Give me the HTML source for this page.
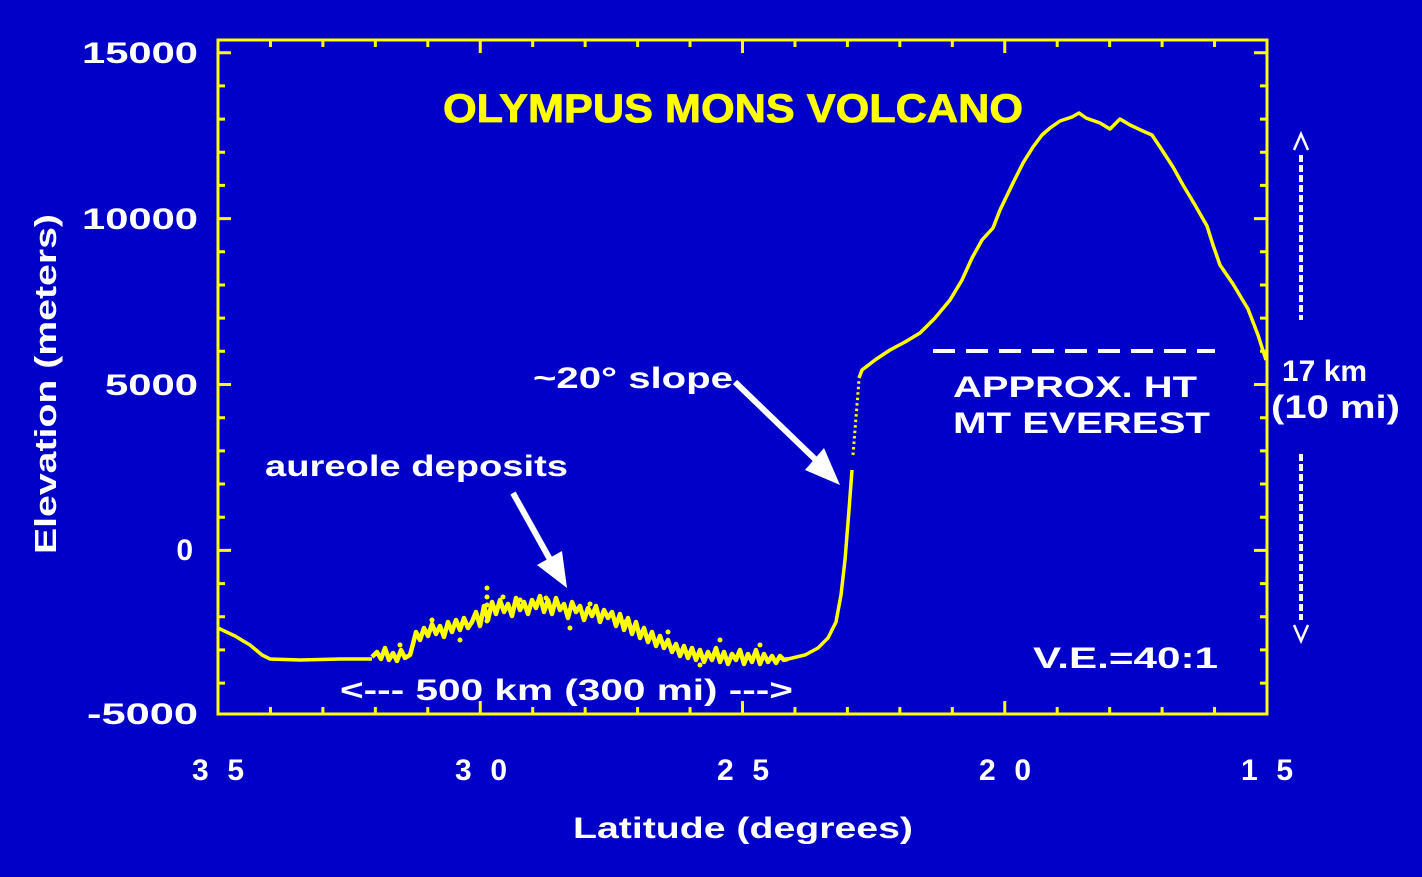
<!DOCTYPE html>
<html><head><meta charset="utf-8"><style>
html,body{margin:0;padding:0;background:#0000c8;}
svg{display:block;}
text{font-family:"Liberation Sans",sans-serif;font-weight:bold;}
</style></head><body>
<svg width="1422" height="877" viewBox="0 0 1422 877" xmlns="http://www.w3.org/2000/svg">
<rect width="1422" height="877" fill="#0000c8"/>
<path stroke="#ffff00" stroke-width="3" fill="none" d="
M218,714v-13 M270.45,714v-7 M322.9,714v-7 M375.35,714v-7 M427.8,714v-7 M480.25,714v-13 M532.7,714v-7 M585.15,714v-7 M637.6,714v-7 M690.05,714v-7 M742.5,714v-13 M794.95,714v-7 M847.4,714v-7 M899.85,714v-7 M952.3,714v-7 M1004.75,714v-13 M1057.2,714v-7 M1109.65,714v-7 M1162.1,714v-7 M1214.55,714v-7
M270.45,40v7 M322.9,40v7 M375.35,40v7 M427.8,40v7 M480.25,40v13 M532.7,40v7 M585.15,40v7 M637.6,40v7 M690.05,40v7 M742.5,40v13 M794.95,40v7 M847.4,40v7 M899.85,40v7 M952.3,40v7 M1004.75,40v13 M1057.2,40v7 M1109.65,40v7 M1162.1,40v7 M1214.55,40v7
M218,52.7h13 M218,85.9h7 M218,119.1h7 M218,152.2h7 M218,185.4h7 M218,218.6h13 M218,251.8h7 M218,285h7 M218,318.1h7 M218,351.3h7 M218,384.5h13 M218,417.7h7 M218,450.9h7 M218,484h7 M218,517.2h7 M218,550.4h13 M218,583.6h7 M218,616.8h7 M218,649.9h7 M218,683.1h7
M1267,52.7h-13 M1267,85.9h-7 M1267,119.1h-7 M1267,152.2h-7 M1267,185.4h-7 M1267,218.6h-13 M1267,251.8h-7 M1267,285h-7 M1267,318.1h-7 M1267,351.3h-7 M1267,384.5h-13 M1267,417.7h-7 M1267,450.9h-7 M1267,484h-7 M1267,517.2h-7 M1267,550.4h-13 M1267,583.6h-7 M1267,616.8h-7 M1267,649.9h-7 M1267,683.1h-7"/>
<rect x="218" y="40" width="1049" height="674" fill="none" stroke="#ffff00" stroke-width="3"/>
<g fill="#fff" font-size="30" text-anchor="end">
<text x="198" y="63" textLength="116" lengthAdjust="spacingAndGlyphs">15000</text>
<text x="198" y="229" textLength="116" lengthAdjust="spacingAndGlyphs">10000</text>
<text x="198" y="395" textLength="93" lengthAdjust="spacingAndGlyphs">5000</text>
<text x="193" y="560">0</text>
<text x="198" y="724" textLength="111" lengthAdjust="spacingAndGlyphs">-5000</text>
</g>
<text transform="translate(56,384) rotate(-90)" fill="#fff" font-size="31" text-anchor="middle" textLength="340" lengthAdjust="spacingAndGlyphs">Elevation (meters)</text>
<g fill="#fff" font-size="30" text-anchor="middle">
<text x="218" y="780" textLength="52" lengthAdjust="spacing">35</text>
<text x="481" y="780" textLength="52" lengthAdjust="spacing">30</text>
<text x="743" y="780" textLength="52" lengthAdjust="spacing">25</text>
<text x="1005" y="780" textLength="52" lengthAdjust="spacing">20</text>
<text x="1267" y="780" textLength="52" lengthAdjust="spacing">15</text>
<text x="743" y="838" textLength="340" lengthAdjust="spacingAndGlyphs">Latitude (degrees)</text>
</g>
<text x="443" y="122" fill="#ffff00" stroke="#ffff00" stroke-width="0.8" font-size="40" textLength="580" lengthAdjust="spacingAndGlyphs">OLYMPUS MONS VOLCANO</text>
<g fill="#fff" font-size="30">
<text x="265" y="476" textLength="303" lengthAdjust="spacingAndGlyphs">aureole deposits</text>
<text x="533" y="388" textLength="200" lengthAdjust="spacingAndGlyphs">~20° slope</text>
<text x="953" y="397" textLength="244" lengthAdjust="spacingAndGlyphs">APPROX.  HT</text>
<text x="953" y="433" textLength="257" lengthAdjust="spacingAndGlyphs">MT  EVEREST</text>
<text x="1033" y="668" textLength="185" lengthAdjust="spacingAndGlyphs">V.E.=40:1</text>
<text x="340" y="700" textLength="453" lengthAdjust="spacingAndGlyphs">&lt;--- 500 km (300 mi) ---&gt;</text>
<text x="1282" y="381" font-size="30">17 km</text>
<text x="1271" y="418" font-size="32" textLength="129" lengthAdjust="spacingAndGlyphs">(10 mi)</text>
</g>
<line x1="933" y1="351" x2="1215" y2="351" stroke="#fff" stroke-width="4" stroke-dasharray="22 11"/>
<line x1="1301" y1="155" x2="1301" y2="320" stroke="#fff" stroke-width="4" stroke-dasharray="7 3"/>
<line x1="1301" y1="454" x2="1301" y2="620" stroke="#fff" stroke-width="4" stroke-dasharray="7 3"/>
<polyline points="1294,150 1301,134 1308,150" fill="none" stroke="#fff" stroke-width="2.5"/>
<polyline points="1294,625 1301,641 1308,625" fill="none" stroke="#fff" stroke-width="2.5"/>
<line x1="735" y1="382" x2="818" y2="462" stroke="#fff" stroke-width="6"/>
<polygon points="805,470 824,448 840,485" fill="#fff"/>
<line x1="513" y1="493" x2="552" y2="563" stroke="#fff" stroke-width="6"/>
<polygon points="537,565 562,551 567,588" fill="#fff"/>
<path d="M218,628 L235,636 L250,645 L262,655 L270,659 L300,660 L340,659 L372,659" fill="none" stroke="#ffff00" stroke-width="3.5"/>
<polyline fill="none" stroke="#ffff00" stroke-width="4.5" stroke-linejoin="round" points="372,657 377,652 381,659 385,648 389,660 393,653 397,661 401,650 405,658 410,655 413,644 416,632 420,640 424,628 428,636 432,624 436,634 440,626 444,637 448,622 452,632 456,620 460,630 464,618 468,628 472,622 476,612 480,626 484,606 488,620 492,602 496,614 500,600 504,612 508,604 512,616 516,598 520,610 524,602 528,614 532,600 536,608 540,596 544,612 548,600 552,614 556,598 560,610 564,604 568,618 572,602 576,612 580,606 584,620 588,608 592,616 596,606 600,622 604,610 608,618 612,612 616,626 620,614 624,630 628,618 632,634 636,622 640,638 644,628 648,642 652,632 656,646 660,636 664,648 668,640 672,652 676,644 680,656 684,646 688,658 692,648 696,660 700,650 704,662 708,652 712,660 716,648 720,662 724,652 728,664 732,654 736,660 740,650 744,664 748,654 752,662 756,650 760,664 764,654 768,662 772,656 776,663 780,656 784,660 788,659"/>
<g fill="#ffff00">
<circle cx="487" cy="588" r="2.5"/><circle cx="487" cy="597" r="2.5"/><circle cx="487" cy="605" r="2.5"/><circle cx="487" cy="613" r="2.5"/><circle cx="487" cy="621" r="2.5"/>
<circle cx="503" cy="597" r="2.5"/><circle cx="520" cy="600" r="2.5"/><circle cx="546" cy="598" r="2.5"/><circle cx="432" cy="620" r="2.5"/><circle cx="400" cy="645" r="2.5"/>
<circle cx="590" cy="604" r="2.5"/><circle cx="625" cy="622" r="2.5"/><circle cx="668" cy="632" r="2.5"/><circle cx="720" cy="640" r="2.5"/><circle cx="760" cy="645" r="2.5"/>
<circle cx="460" cy="640" r="2.5"/><circle cx="570" cy="628" r="2.5"/><circle cx="700" cy="665" r="2.5"/>
</g>
<path d="M788,659 L805,655 L818,648 L828,638 L836,622 L841,595 L845,560 L849,510 L852,470" fill="none" stroke="#ffff00" stroke-width="3.5"/>
<line x1="853" y1="455" x2="859" y2="380" stroke="#ffff00" stroke-width="3" stroke-dasharray="2.5 3"/>
<path d="M859,378 L862,370 L875,360 L890,350 L905,342 L920,333 L935,318 L950,300 L962,280 L972,258 L982,240 L993,228 L1000,210 L1013,183 L1023,163 L1033,147 L1042,135 L1050,128 L1060,121 L1072,117 L1079,113 L1086,118 L1100,123 L1110,129 L1120,119 L1130,125 L1145,132 L1152,135 L1162,150 L1173,167 L1183,185 L1195,205 L1207,226 L1213,245 L1220,265 L1233,284 L1248,309 L1258,335 L1266,360" fill="none" stroke="#ffff00" stroke-width="3.5" stroke-linejoin="round"/>
</svg>
</body></html>
